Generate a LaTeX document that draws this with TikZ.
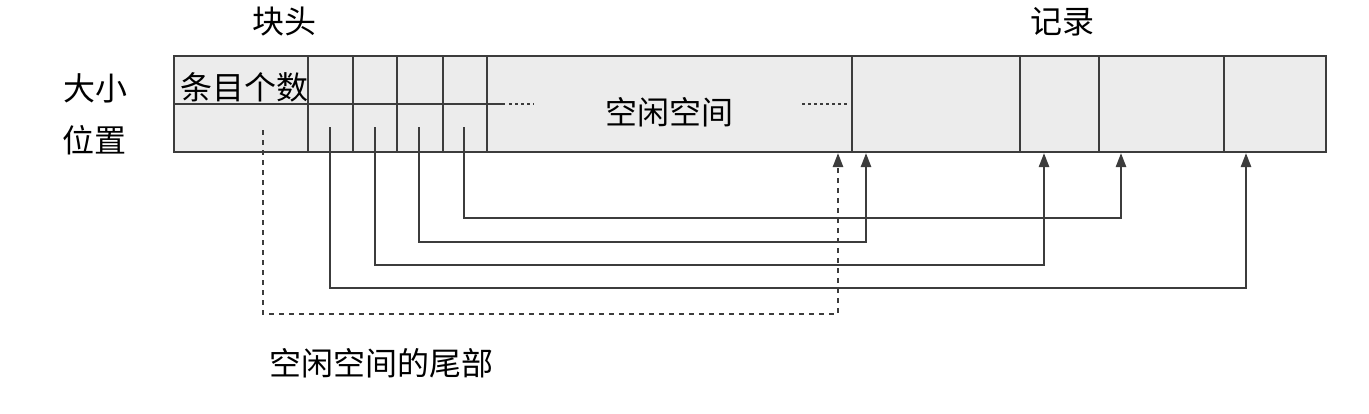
\documentclass[tikz,border=0pt]{standalone}
\usepackage{fontspec}
\newfontfamily\cjk{Noto Sans CJK SC}
\usetikzlibrary{arrows.meta}
\definecolor{linegray}{HTML}{3C3C3C}
\definecolor{cellfill}{HTML}{ECECEC}
\begin{document}
\begin{tikzpicture}[x=0.5pt,y=-0.5pt,
  every node/.style={font=\cjk\fontsize{16pt}{18pt}\selectfont, text=black, inner sep=0pt},
  frame/.style={draw=linegray, line width=1.2pt},
  ptr/.style={draw=linegray, line width=1.2pt, -{Triangle[length=7pt,width=5pt]}},
  freeptr/.style={draw=linegray, line width=1.2pt, dash pattern=on 2.5pt off 2.5pt, -{Triangle[length=7pt,width=5pt]}},
  dotsline/.style={draw=linegray, line width=0.7pt, dash pattern=on 1.5pt off 1.5pt}]
\useasboundingbox (0,0) rectangle (1369,413);
% block body
\fill[cellfill] (174,56) rectangle (1326,152);
\draw[frame] (174,56) rectangle (1326,152);
% header vertical separators
\foreach \x in {308,353,397,443,487,852,1020,1099,1224}
  \draw[frame] (\x,56) -- (\x,152);
% middle line of header
\draw[frame] (174,104) -- (505,104);
\draw[dotsline] (509,104) -- (534,104);
\draw[dotsline] (802,104) -- (850,104);
% texts
\node (kt) at (284,22) {块头};
\node (jl) at (1062,22) {记录};
\node (dx) at (95,88) {大小};
\node (wz) at (94,140) {位置};
\node[anchor=west] (tm) at (180,87) {条目个数};
\node (kx) at (669,112) {空闲空间};
\node (wb) at (381,363) {空闲空间的尾部};
% pointer starts
\coordinate (p0) at (263,130);
\coordinate (p1) at (330,127);
\coordinate (p2) at (375,127);
\coordinate (p3) at (419,127);
\coordinate (p4) at (464,127);
% targets
\coordinate (tf) at (838,153);
\coordinate (t1) at (1246,153);
\coordinate (t2) at (1044,153);
\coordinate (t3) at (866,153);
\coordinate (t4) at (1121,153);
% pointers
\draw[ptr] (p4) |- (1121,218) -- (t4);
\draw[ptr] (p3) |- (866,242) -- (t3);
\draw[ptr] (p2) |- (1044,265) -- (t2);
\draw[ptr] (p1) |- (1246,288) -- (t1);
\draw[freeptr] (p0) |- (838,314) -- (tf);
\end{tikzpicture}
\end{document}
